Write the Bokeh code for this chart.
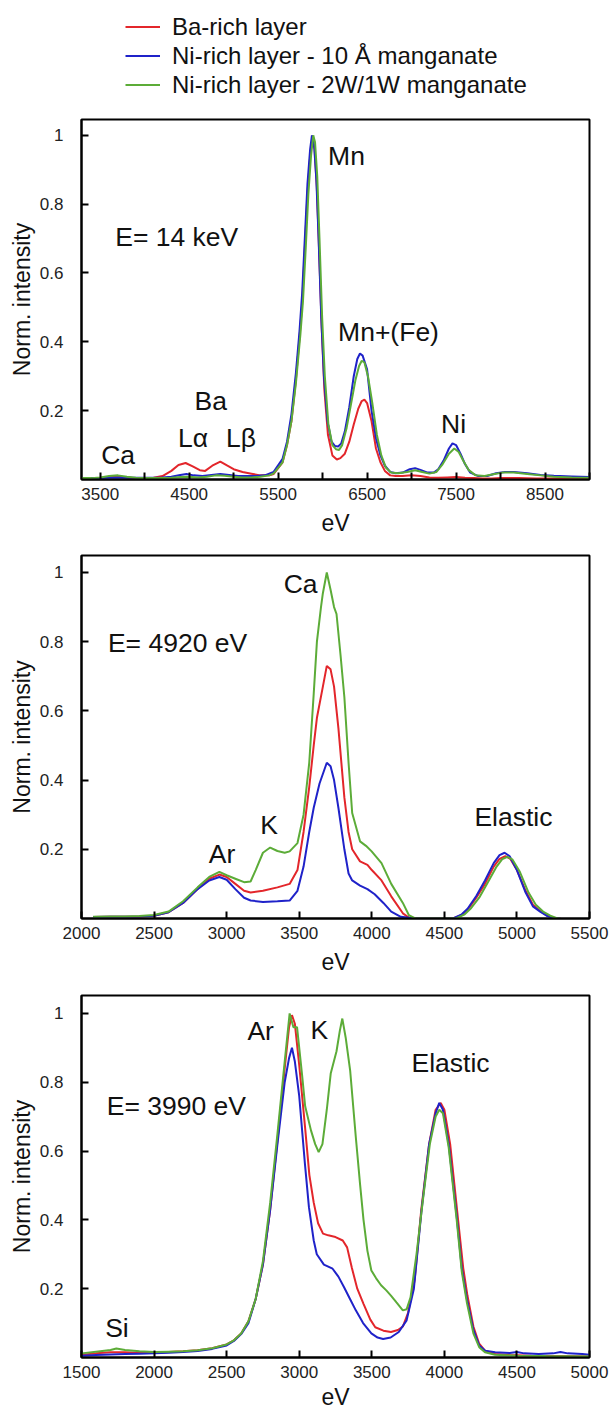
from bokeh.plotting import figure
from bokeh.layouts import column
from bokeh.models import (Range1d, FixedTicker, CustomJSTickFormatter, Legend,
                          LegendItem, ColumnDataSource)
from bokeh.core.properties import value
from bokeh.embed import file_html
from bokeh.resources import INLINE

FONT = "Liberation Sans"
RED, BLUE, GREEN = "#e3262b", "#1f22c9", "#5cac38"
series_labels = ["Ba-rich layer", "Ni-rich layer - 10 Å manganate",
                 "Ni-rich layer - 2W/1W manganate"]
y_label = "Norm. intensity"
x_label = "eV"
y_ticks = [0.2, 0.4, 0.6, 0.8, 1.0]

# ---------------- Panel 1 : E = 14 keV ----------------
p1_xticks = [3500, 4500, 5500, 6500, 7500, 8500]
p1_xminor = [4000, 5000, 6000, 7000, 8000, 9000]
p1_red_x = [3290, 3400, 3500, 3600, 3700, 3800, 3900, 4000, 4100, 4200, 4300, 4380, 4460, 4540, 4620, 4680,
            4760, 4850, 4930, 5000, 5100, 5200, 5300, 5400, 5450, 5550, 5600, 5650, 5700, 5740, 5770, 5800,
            5830, 5860, 5885, 5910, 5935, 5960, 5990, 6020, 6060, 6110, 6160, 6200, 6250, 6300, 6350, 6400,
            6440, 6470, 6500, 6550, 6600, 6650, 6700, 6760, 6820, 6900, 7000, 7100, 7200, 7300, 7400, 7500,
            7600, 7700, 7800, 7900, 8000, 8200, 8400, 8600, 8800, 9000]
p1_red_y = [0.003, 0.003, 0.004, 0.008, 0.009, 0.006, 0.004, 0.004, 0.005, 0.01, 0.025, 0.042, 0.048, 0.038,
            0.027, 0.025, 0.04, 0.052, 0.04, 0.03, 0.022, 0.017, 0.012, 0.012, 0.016, 0.05, 0.1, 0.17, 0.29,
            0.41, 0.51, 0.67, 0.83, 0.94, 0.99, 0.96, 0.85, 0.67, 0.44, 0.26, 0.13, 0.07, 0.058, 0.062, 0.075,
            0.11, 0.16, 0.205, 0.228, 0.232, 0.222, 0.17, 0.09, 0.05, 0.025, 0.012, 0.01, 0.01, 0.012, 0.01,
            0.006, 0.005, 0.006, 0.007, 0.005, 0.004, 0.003, 0.003, 0.004, 0.004, 0.003, 0.003, 0.003, 0.003]
p1_blue_x = [3290, 3400, 3500, 3600, 3700, 3800, 3900, 4000, 4100, 4200, 4300, 4400, 4470, 4550, 4650, 4750,
             4850, 4950, 5050, 5150, 5250, 5350, 5450, 5550, 5600, 5650, 5700, 5740, 5770, 5800, 5830, 5860,
             5880, 5905, 5930, 5955, 5985, 6015, 6055, 6100, 6140, 6175, 6210, 6250, 6300, 6350, 6390, 6420,
             6450, 6500, 6550, 6600, 6650, 6700, 6760, 6820, 6900, 6980, 7040, 7100, 7180, 7250, 7300, 7360,
             7420, 7460, 7500, 7550, 7600, 7660, 7750, 7850, 7950, 8050, 8150, 8300, 8450, 8600, 8800, 9000]
p1_blue_y = [0.004, 0.004, 0.004, 0.005, 0.006, 0.005, 0.005, 0.005, 0.005, 0.006, 0.008, 0.013, 0.016, 0.012,
             0.01, 0.013, 0.016, 0.013, 0.01, 0.01, 0.01, 0.012, 0.022, 0.06, 0.11, 0.19, 0.31, 0.43, 0.54, 0.7,
             0.86, 0.96, 1.0, 0.97, 0.87, 0.7, 0.47, 0.3, 0.17, 0.11, 0.097, 0.096, 0.105, 0.14, 0.21, 0.3,
             0.35, 0.366, 0.36, 0.32, 0.2, 0.12, 0.07, 0.04, 0.022, 0.018, 0.02, 0.03, 0.033, 0.028, 0.02,
             0.02, 0.03, 0.055, 0.09, 0.105, 0.1, 0.075, 0.045, 0.02, 0.01, 0.01, 0.018, 0.022, 0.022, 0.018,
             0.013, 0.011, 0.009, 0.007]
p1_green_x = [3290, 3400, 3500, 3600, 3700, 3800, 3900, 4000, 4100, 4200, 4300, 4400, 4500, 4600, 4700, 4800,
              4900, 5000, 5100, 5200, 5300, 5400, 5450, 5550, 5600, 5650, 5700, 5750, 5780, 5810, 5840, 5870,
              5895, 5915, 5940, 5965, 5995, 6025, 6065, 6110, 6150, 6185, 6220, 6270, 6320, 6370, 6410, 6440,
              6470, 6510, 6560, 6610, 6660, 6710, 6770, 6850, 6950, 7040, 7120, 7200, 7280, 7350, 7420, 7480,
              7530, 7580, 7640, 7720, 7820, 7920, 8020, 8150, 8300, 8450, 8600, 8800, 9000]
p1_green_y = [0.004, 0.004, 0.006, 0.01, 0.012, 0.008, 0.005, 0.004, 0.004, 0.004, 0.005, 0.007, 0.008, 0.006,
              0.008, 0.012, 0.011, 0.008, 0.006, 0.006, 0.008, 0.012, 0.018, 0.05, 0.1, 0.17, 0.28, 0.42, 0.52,
              0.67, 0.83, 0.94, 1.0, 0.98, 0.88, 0.7, 0.47, 0.3, 0.16, 0.1, 0.088, 0.086, 0.1, 0.15, 0.22, 0.29,
              0.33, 0.345, 0.34, 0.3, 0.22, 0.13, 0.07, 0.035, 0.02, 0.018, 0.022, 0.027, 0.022, 0.017, 0.022,
              0.045, 0.075, 0.09, 0.08, 0.055, 0.028, 0.012, 0.01, 0.015, 0.02, 0.02, 0.016, 0.012, 0.008,
              0.006, 0.005]
p1_notes = ["E= 14 keV", "Mn", "Mn+(Fe)", "Ba", "Lα", "Lβ", "Ca", "Ni"]
p1_note_x = [3669, 6062, 6174, 4560, 4376, 4915, 3511, 7332]
p1_note_y = [0.705, 0.94, 0.43, 0.229, 0.121, 0.121, 0.07, 0.162]

# ---------------- Panel 2 : E = 4920 eV ----------------
p2_xticks = [2000, 2500, 3000, 3500, 4000, 4500, 5000, 5500]
p2_red_x = [2080, 2200, 2300, 2400, 2500, 2600, 2700, 2800, 2880, 2950, 3000, 3060, 3120, 3165, 3250, 3350,
            3434, 3488, 3530, 3569, 3600, 3622, 3663, 3690, 3716, 3740, 3770, 3811, 3840, 3865, 3919, 3970,
            4000, 4067, 4134, 4214, 4255, 4300, 4400, 4500, 4560, 4620, 4660, 4720, 4780, 4840, 4880, 4920,
            4955, 5000, 5060, 5110, 5160, 5210, 5260, 5300]
p2_red_y = [0.004, 0.005, 0.005, 0.006, 0.008, 0.018, 0.045, 0.085, 0.115, 0.127, 0.12, 0.1, 0.08, 0.075, 0.08,
            0.09, 0.1, 0.14, 0.25, 0.38, 0.5, 0.58, 0.67, 0.73, 0.72, 0.67, 0.55, 0.35, 0.25, 0.2, 0.165, 0.155,
            0.14, 0.11, 0.064, 0.015, 0.003, 0.0, 0.0, 0.0, 0.0, 0.01, 0.025, 0.06, 0.1, 0.15, 0.172, 0.18,
            0.172, 0.14, 0.08, 0.04, 0.022, 0.008, 0.0, 0.0]
p2_blue_x = [2080, 2200, 2300, 2400, 2500, 2600, 2700, 2800, 2880, 2950, 3000, 3060, 3120, 3165, 3250, 3350,
             3434, 3488, 3530, 3569, 3600, 3640, 3690, 3716, 3740, 3770, 3811, 3840, 3865, 3919, 3970, 4020,
             4080, 4134, 4200, 4300, 4400, 4500, 4560, 4620, 4660, 4720, 4780, 4840, 4880, 4915, 4950, 5000,
             5060, 5110, 5160, 5210, 5260, 5300]
p2_blue_y = [0.004, 0.005, 0.005, 0.006, 0.008, 0.018, 0.045, 0.085, 0.11, 0.12, 0.112, 0.085, 0.06, 0.052,
             0.048, 0.05, 0.052, 0.08, 0.15, 0.25, 0.32, 0.39, 0.45, 0.44, 0.4, 0.32, 0.2, 0.13, 0.11, 0.095,
             0.085, 0.07, 0.045, 0.02, 0.005, 0.0, 0.0, 0.0, 0.0, 0.012, 0.028, 0.065, 0.11, 0.16, 0.183, 0.19,
             0.18, 0.14, 0.075, 0.035, 0.02, 0.007, 0.0, 0.0]
p2_green_x = [2080, 2200, 2300, 2400, 2500, 2600, 2700, 2800, 2880, 2950, 3000, 3060, 3120, 3165, 3200, 3250,
              3300, 3350, 3400, 3434, 3488, 3530, 3569, 3600, 3622, 3650, 3663, 3690, 3716, 3740, 3757, 3785,
              3811, 3840, 3865, 3919, 3960, 3999, 4067, 4134, 4214, 4255, 4300, 4400, 4500, 4580, 4640, 4680,
              4740, 4800, 4860, 4900, 4935, 4970, 5020, 5080, 5130, 5180, 5230, 5280, 5300]
p2_green_y = [0.005, 0.006, 0.006, 0.007, 0.01, 0.02, 0.05, 0.09, 0.12, 0.135, 0.125, 0.115, 0.105, 0.107,
              0.14, 0.19, 0.205, 0.195, 0.19, 0.194, 0.218, 0.3, 0.45, 0.65, 0.8, 0.9, 0.94, 1.0, 0.95, 0.9,
              0.88, 0.76, 0.64, 0.45, 0.305, 0.223, 0.21, 0.194, 0.16, 0.1, 0.045, 0.01, 0.0, 0.0, 0.0, 0.0,
              0.012, 0.028, 0.06, 0.105, 0.15, 0.172, 0.178, 0.17, 0.135, 0.075, 0.04, 0.02, 0.008, 0.0, 0.0]
p2_notes = ["E= 4920 eV", "Ca", "K", "Ar", "Elastic"]
p2_note_x = [2182, 3393, 3232, 2877, 4707]
p2_note_y = [0.797, 0.968, 0.271, 0.187, 0.293]

# ---------------- Panel 3 : E = 3990 eV ----------------
p3_xticks = [1500, 2000, 2500, 3000, 3500, 4000, 4500, 5000]
p3_red_x = [1500, 1600, 1700, 1800, 1900, 2000, 2100, 2200, 2300, 2400, 2500, 2550, 2600, 2650, 2700, 2750,
            2800, 2850, 2900, 2930, 2950, 2970, 3000, 3040, 3070, 3100, 3130, 3164, 3200, 3250, 3300, 3330,
            3363, 3400, 3443, 3490, 3524, 3580, 3632, 3680, 3714, 3750, 3795, 3841, 3895, 3940, 3975, 4000,
            4040, 4092, 4130, 4159, 4200, 4240, 4280, 4350, 4450, 4600, 4800, 5000]
p3_red_y = [0.008, 0.012, 0.015, 0.015, 0.013, 0.014, 0.016, 0.018, 0.021, 0.027, 0.038, 0.05, 0.07, 0.105,
            0.17, 0.27, 0.43, 0.63, 0.84, 0.96, 0.995, 0.97, 0.85, 0.67, 0.53, 0.45, 0.39, 0.36, 0.355, 0.35,
            0.34, 0.32, 0.26, 0.2, 0.156, 0.11, 0.088, 0.078, 0.074, 0.08, 0.09, 0.13, 0.224, 0.43, 0.62, 0.72,
            0.74, 0.72, 0.62, 0.41, 0.26, 0.18, 0.09, 0.04, 0.02, 0.01, 0.007, 0.005, 0.004, 0.003]
p3_blue_x = [1500, 1600, 1700, 1800, 1900, 2000, 2100, 2200, 2300, 2400, 2500, 2550, 2600, 2650, 2700, 2750,
             2800, 2850, 2900, 2930, 2950, 2970, 3000, 3040, 3067, 3100, 3121, 3170, 3230, 3270, 3309, 3350,
             3390, 3440, 3497, 3540, 3578, 3630, 3686, 3740, 3790, 3841, 3895, 3940, 3965, 3990, 4030, 4085,
             4120, 4155, 4200, 4240, 4280, 4350, 4450, 4500, 4550, 4650, 4750, 4800, 4850, 4950, 5000]
p3_blue_y = [0.005, 0.007, 0.009, 0.01, 0.011, 0.012, 0.014, 0.016, 0.019, 0.025, 0.035, 0.048, 0.068, 0.1,
             0.17, 0.27, 0.43, 0.62, 0.8, 0.87, 0.9, 0.86, 0.76, 0.56, 0.437, 0.34, 0.3, 0.27, 0.258, 0.235,
             0.204, 0.17, 0.137, 0.1, 0.07, 0.058, 0.054, 0.058, 0.074, 0.108, 0.2, 0.42, 0.62, 0.71, 0.74,
             0.72, 0.62, 0.41, 0.26, 0.17, 0.08, 0.035, 0.02, 0.015, 0.013, 0.016, 0.012, 0.01, 0.012, 0.016,
             0.012, 0.01, 0.008]
p3_green_x = [1500, 1600, 1700, 1740, 1800, 1900, 2000, 2100, 2200, 2300, 2400, 2500, 2550, 2600, 2650, 2700,
              2750, 2800, 2850, 2900, 2934, 2960, 2985, 3020, 3041, 3081, 3110, 3134, 3160, 3190, 3217, 3257,
              3280, 3297, 3320, 3351, 3390, 3420, 3443, 3470, 3497, 3530, 3564, 3600, 3632, 3670, 3714, 3740,
              3767, 3808, 3850, 3900, 3940, 3965, 3990, 4030, 4085, 4120, 4155, 4200, 4240, 4280, 4350, 4500,
              4700, 5000]
p3_green_y = [0.012, 0.017, 0.022, 0.026, 0.022, 0.018, 0.016, 0.017, 0.018, 0.021, 0.027, 0.038, 0.05, 0.07,
              0.105, 0.17, 0.28, 0.45, 0.65, 0.86, 1.0, 0.96, 0.96, 0.82, 0.73, 0.66, 0.62, 0.597, 0.62, 0.72,
              0.825, 0.89, 0.95, 0.985, 0.93, 0.834, 0.64, 0.5, 0.4, 0.31, 0.253, 0.23, 0.21, 0.195, 0.18, 0.16,
              0.137, 0.14, 0.175, 0.3, 0.45, 0.62, 0.7, 0.72, 0.71, 0.61, 0.4, 0.25, 0.16, 0.07, 0.03, 0.015,
              0.008, 0.005, 0.004, 0.003]
p3_notes = ["E= 3990 eV", "Ar", "K", "Elastic", "Si"]
p3_note_x = [1674, 2643, 3077, 3774, 1663]
p3_note_y = [0.73, 0.949, 0.953, 0.855, 0.087]


def make_panel(height, top, bottom, xr, ytop, xticks, xminor, series, notes, label_standoff):
    p = figure(width=612, height=height, x_range=Range1d(*xr), y_range=Range1d(0, ytop),
               output_backend="svg", toolbar_location=None,
               min_border_left=81, min_border_right=23, min_border_top=top, min_border_bottom=bottom)
    p.grid.visible = False
    p.outline_line_color = "black"
    p.outline_line_width = 2
    p.outline_line_alpha = 1
    p.background_fill_color = "white"
    p.border_fill_color = "white"
    rends = []
    for xs, ys, col in series:
        assert len(xs) == len(ys)
        rends.append(p.line(xs, ys, line_color=col, line_width=2))
    xa, ya = p.xaxis[0], p.yaxis[0]
    xa.ticker = FixedTicker(ticks=xticks, minor_ticks=xminor)
    ya.ticker = FixedTicker(ticks=y_ticks, minor_ticks=[])
    ya.formatter = CustomJSTickFormatter(code="return String(Math.round(tick*10)/10);")
    for ax in (xa, ya):
        ax.axis_line_width = 2
        ax.axis_line_color = "black"
        ax.major_tick_in = 7
        ax.major_tick_out = 0
        ax.major_tick_line_width = 2
        ax.major_tick_line_color = "black"
        ax.minor_tick_in = 7
        ax.minor_tick_out = 0
        ax.minor_tick_line_width = 2
        ax.minor_tick_line_color = "black"
        ax.major_label_text_font = FONT
        ax.major_label_text_font_size = "17px"
        ax.major_label_text_color = "#222222"
        ax.axis_label_text_font = FONT
        ax.axis_label_text_font_size = "23px"
        ax.axis_label_text_font_style = "normal"
        ax.axis_label_text_color = "#111111"
    xa.axis_label = x_label
    xa.major_label_standoff = 8
    xa.axis_label_standoff = label_standoff
    ya.axis_label = y_label
    ya.major_label_standoff = 18
    ya.axis_label_standoff = 2
    nt, nx, ny = notes
    src = ColumnDataSource(dict(x=nx, y=ny, t=nt))
    p.text(x="x", y="y", text="t", source=src, text_font=value(FONT), text_font_size="26.5px",
           text_baseline="middle", text_align="left", text_color="#111111")
    return p, rends


# ---------------- Legend strip on top ----------------
leg = figure(width=612, height=105, x_range=Range1d(0, 1), y_range=Range1d(0, 1),
             output_backend="svg", toolbar_location=None, x_axis_type=None, y_axis_type=None,
             min_border_left=81, min_border_right=23, min_border_top=0, min_border_bottom=0)
leg.grid.visible = False
leg.outline_line_color = None
nan = float("nan")
leg_rends = [leg.line(x=[nan], y=[nan], line_color=c, line_width=2) for c in (RED, BLUE, GREEN)]
legend = Legend(items=[LegendItem(label=lab, renderers=[r]) for lab, r in zip(series_labels, leg_rends)],
                location=(44, 6), orientation="vertical",
                border_line_alpha=0, background_fill_alpha=0,
                label_text_font=FONT, label_text_font_size="24px", label_text_color="#111111",
                glyph_width=35, glyph_height=29, label_height=29, label_standoff=12,
                spacing=0, padding=0, margin=0)
leg.add_layout(legend)

p1, r1 = make_panel(435, 14, 61, (3290, 9000), 1.046, p1_xticks, p1_xminor,
                    [(p1_red_x, p1_red_y, RED), (p1_blue_x, p1_blue_y, BLUE), (p1_green_x, p1_green_y, GREEN)],
                    (p1_notes, p1_note_x, p1_note_y), 7)
p2, r2 = make_panel(440, 15, 62, (2000, 5500), 1.049, p2_xticks, [],
                    [(p2_red_x, p2_red_y, RED), (p2_blue_x, p2_blue_y, BLUE), (p2_green_x, p2_green_y, GREEN)],
                    (p2_notes, p2_note_x, p2_note_y), 7)
p3, r3 = make_panel(435, 15, 58, (1500, 5000), 1.052, p3_xticks, [],
                    [(p3_red_x, p3_red_y, RED), (p3_blue_x, p3_blue_y, BLUE), (p3_green_x, p3_green_y, GREEN)],
                    (p3_notes, p3_note_x, p3_note_y), 3)

layout = column(leg, p1, p2, p3, spacing=0)
open("out.html", "w").write(file_html(layout, INLINE))
